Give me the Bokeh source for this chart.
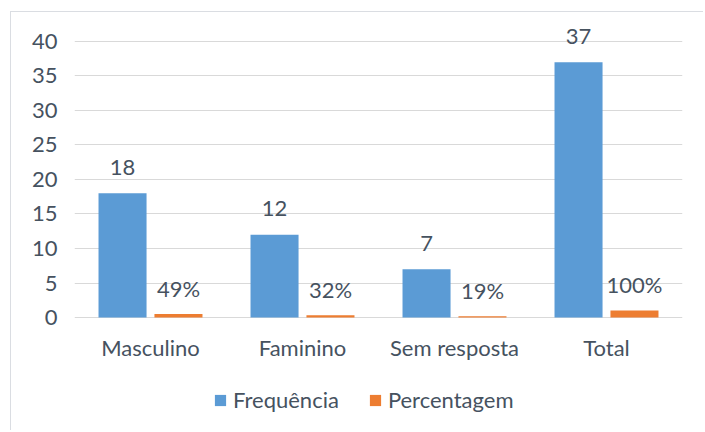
from bokeh.plotting import figure
from bokeh.models import ColumnDataSource, FactorRange, Legend, LegendItem
from bokeh.transform import dodge
from bokeh.core.properties import value
from bokeh.embed import file_html
from bokeh.resources import INLINE

categories = ["Masculino", "Faminino", "Sem resposta", "Total"]
frequencia = [18, 12, 7, 37]
percentagem = [0.49, 0.32, 0.19, 1.00]
freq_labels = ["18", "12", "7", "37"]
perc_labels = ["49%", "32%", "19%", "100%"]
y_ticks = [0, 5, 10, 15, 20, 25, 30, 35, 40]

FONT = "Lato"
FS = "22px"
TXT = "#46525f"
GRID = "#d9d9d9"
BLUE = "#5b9bd5"
ORANGE = "#ed7d31"

src = ColumnDataSource(dict(cat=categories, freq=frequencia, perc=percentagem,
                            fl=freq_labels, pl=perc_labels))

p = figure(x_range=FactorRange(*categories, range_padding=0), y_range=(-16.52, 44.2),
           width=693, height=419, output_backend="svg", toolbar_location=None,
           x_axis_location=None,
           min_border_left=63, min_border_right=22, min_border_top=0, min_border_bottom=0,
           styles={"margin-left": "10px", "margin-top": "11px",
                   "border-left": "1px solid #dadde2", "border-top": "1px solid #dadde2"})
p.outline_line_color = None
p.background_fill_color = "white"

r1 = p.vbar(x=dodge("cat", -0.184, range=p.x_range), top="freq", width=0.316, source=src,
            fill_color=BLUE, line_color=None)
r2 = p.vbar(x=dodge("cat", 0.184, range=p.x_range), top="perc", width=0.316, source=src,
            fill_color=ORANGE, line_color=None)

p.text(x=dodge("cat", -0.184, range=p.x_range), y="freq", text="fl", source=src,
       text_align="center", text_baseline="middle", y_offset=-26,
       text_font=value(FONT), text_font_size=FS, text_color=TXT)
p.text(x=dodge("cat", 0.184, range=p.x_range), y="perc", text="pl", source=src,
       text_align="center", text_baseline="middle", y_offset=-26,
       text_font=value(FONT), text_font_size=FS, text_color=TXT)
# category labels under the baseline
p.text(x="cat", y=0, text="cat", source=src,
       text_align="center", text_baseline="middle", y_offset=30,
       text_font=value(FONT), text_font_size=FS, text_color=TXT)

p.yaxis.ticker = y_ticks
p.yaxis.axis_line_color = None
p.yaxis.major_tick_line_color = None
p.yaxis.minor_tick_line_color = None
p.yaxis.major_label_standoff = 11
p.yaxis.major_label_text_font = FONT
p.yaxis.major_label_text_font_size = FS
p.yaxis.major_label_text_color = TXT

p.xgrid.grid_line_color = None
p.ygrid.grid_line_color = GRID
p.ygrid.grid_line_width = 1

legend = Legend(items=[LegendItem(label="Frequência", renderers=[r1]),
                       LegendItem(label="Percentagem", renderers=[r2])],
                orientation="horizontal", location=(139, 18),
                label_text_font=FONT, label_text_font_size=FS, label_text_color=TXT,
                glyph_width=14, glyph_height=14, spacing=29, label_standoff=6,
                border_line_color=None, background_fill_alpha=0, margin=0, padding=0)
p.add_layout(legend, "center")

open("out.html", "w").write(file_html(p, INLINE))
